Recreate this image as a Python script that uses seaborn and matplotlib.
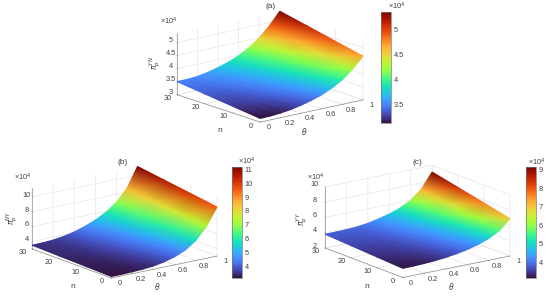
import numpy as np
import matplotlib
matplotlib.use("Agg")
import matplotlib.pyplot as plt
import seaborn as sns
from matplotlib.cm import ScalarMappable
from matplotlib.collections import TriMesh
from matplotlib.colors import Normalize
from matplotlib.tri import Triangulation
from mpl_toolkits.mplot3d import proj3d

sns.set_theme(style="white")
plt.rcParams["font.family"] = ["Liberation Sans", "DejaVu Sans"]
plt.rcParams["mathtext.fontset"] = "dejavusans"

theta = [0, .1, .2, .3, .4, .5, .6, .7, .8, .9, 1]
n_vals = [0, 10, 20, 30]

a_z = [[3.14, 3.15, 3.18, 3.23, 3.31, 3.41, 3.54, 3.72, 3.95, 4.27, 4.68],
       [3.26, 3.27, 3.30, 3.35, 3.44, 3.55, 3.69, 3.88, 4.13, 4.47, 4.90],
       [3.38, 3.38, 3.41, 3.48, 3.57, 3.68, 3.83, 4.04, 4.32, 4.68, 5.13],
       [3.50, 3.50, 3.53, 3.60, 3.70, 3.82, 3.98, 4.20, 4.50, 4.88, 5.35]]
b_z = [[3.20, 3.21, 3.25, 3.32, 3.45, 3.70, 4.10, 4.70, 5.70, 7.30, 9.60],
       [3.30, 3.31, 3.37, 3.48, 3.67, 3.98, 4.43, 5.08, 6.10, 7.70, 10.12],
       [3.40, 3.42, 3.48, 3.64, 3.88, 4.27, 4.77, 5.47, 6.50, 8.10, 10.63],
       [3.50, 3.52, 3.60, 3.80, 4.10, 4.55, 5.10, 5.85, 6.90, 8.50, 11.15]]
c_z = [[3.20, 3.22, 3.27, 3.36, 3.50, 3.70, 3.97, 4.33, 4.85, 5.60, 6.90],
       [3.40, 3.41, 3.46, 3.55, 3.70, 3.93, 4.23, 4.64, 5.23, 6.13, 7.64],
       [3.60, 3.61, 3.65, 3.74, 3.90, 4.17, 4.49, 4.94, 5.62, 6.67, 8.39],
       [3.80, 3.80, 3.84, 3.92, 4.10, 4.40, 4.75, 5.25, 6.00, 7.20, 9.13]]

W, H = 550, 299
fig = plt.figure(figsize=(5.5, 2.99), dpi=100, facecolor="white")
cmap = sns.color_palette("turbo", as_cmap=True)
GRID = "#e6e6e6"
TXT = "#404040"


def px(x, y):
    return x / W, 1 - y / H


def panel(title, zlab, Z, zlim, zticks, clim, cticks, view, left, right, cb, offs, zl, nl, tl, tt, cbt):
    ax = fig.add_axes([0, 0, .5, .5], projection="3d", proj_type="ortho", facecolor="none")
    ax.set_xlim(0, 1, view_margin=0)
    ax.set_ylim(0, 30, view_margin=0)
    ax.set_zlim(*zlim, view_margin=0)
    ax.view_init(elev=view[0], azim=view[1])
    ax.set_box_aspect((1, 1, .48), zoom=1)
    M = ax.get_proj()
    pl = proj3d.proj_transform(0, 30, zlim[0], M)
    pr = proj3d.proj_transform(1, 0, zlim[0], M)
    x0, x1 = ax.viewLim.intervalx
    y0, y1 = ax.viewLim.intervaly
    scale = (right[0] - left[0]) / (pr[0] - pl[0])
    S = scale * (x1 - x0)
    L = left[0] - (pl[0] - x0) * scale
    yb = (left[1] + right[1]) / 2 + ((pl[1] + pr[1]) / 2 - y0) * scale
    ax.set_position([L / W, 1 - yb / H, S / W, S / H])

    ax.set_xticks([0, .2, .4, .6, .8, 1])
    ax.set_xticklabels(["0", "0.2", "0.4", "0.6", "0.8", "1"])
    ax.set_yticks([0, 10, 20, 30])
    ax.set_zticks(zticks)
    ax.set_zticklabels([f"{t:g}" for t in zticks])
    ax.tick_params(labelsize=5.3, labelcolor=TXT, length=0)
    ax.tick_params(axis="x", pad=-0.5)
    ax.tick_params(axis="y", pad=-1.5)
    ax.tick_params(axis="z", pad=view[2])
    for axis, va in ((ax.xaxis, "bottom"), (ax.yaxis, "bottom"), (ax.zaxis, "baseline")):
        axis.set_pane_color((1, 1, 1, 0))
        axis.line.set_color("#909090")
        axis.line.set_linewidth(.5)
        axis._axinfo["grid"].update(color=GRID, linewidth=.5)
        axis._axinfo["tick"].update(inward_factor=0.0, outward_factor=0.02, linewidth={True: .4, False: .4}, color="#909090")
        for tick in axis.get_major_ticks():
            tick.label1.set_va(va)

    # Gouraud-shaded mesh on the library's own projection of the value table
    X, Y = np.meshgrid(theta, n_vals)
    Zv = np.array(Z)
    xs, ys, _ = proj3d.proj_transform(X.ravel(), Y.ravel(), Zv.ravel(), M)
    mesh = TriMesh(Triangulation(xs, ys, [
        t for j in range(len(n_vals) - 1) for i in range(len(theta) - 1)
        for k in [j * len(theta) + i] for t in
        ([k, k + 1, k + len(theta)], [k + 1, k + len(theta) + 1, k + len(theta)])]),
        cmap=cmap, norm=Normalize(*clim))
    mesh.set_array(Zv.ravel())
    mesh.do_3d_projection = lambda: 0.0
    ax.add_collection(mesh, autolim=False)

    cax = fig.add_axes([cb[0] / W, 1 - cb[3] / H, (cb[2] - cb[0]) / W, (cb[3] - cb[1]) / H])
    cbar = fig.colorbar(ScalarMappable(Normalize(*clim), cmap), cax=cax)
    cbar.set_ticks(cticks)
    cbar.set_ticklabels([f"{t:g}" for t in cticks])
    cbar.ax.tick_params(labelsize=5.3, labelcolor=TXT, length=0, pad=2)
    cbar.outline.set_edgecolor("#777777")
    cbar.outline.set_linewidth(.5)

    def T(p, s, **kw):
        fig.text(*px(*p), s, ha="center", va="center", color=TXT, fontsize=kw.pop("fontsize", 5.3), **kw)

    T(offs, "×10$^{4}$")
    T(cbt, "×10$^{4}$")
    T(zl, zlab, rotation=90, fontsize=5.5)
    T(nl, "n", fontsize=6)
    T(tl, r"$\theta$", fontsize=5.5)
    T(tt, title, fontsize=6)
    return ax


panel("(a)", r"$\pi_p^{YN}$", a_z, (3, 5.35), [3, 3.5, 4, 4.5, 5], (3.14, 5.35), [3.5, 4, 4.5, 5], (15.5, -129, -5.5),
      (177, 95), (363, 99.5), (381, 12, 391, 123), (169, 21), (155, 63), (220, 131), (304, 132), (271, 7), (397, 6))
panel("(b)", r"$\pi_p^{NY}$", b_z, (3, 11.2), [4, 6, 8, 10], (3.16, 11.17), [4, 5, 6, 7, 8, 9, 10, 11], (16, -127, -6),
      (32, 250), (217, 255), (232, 167, 242, 278), (23, 177), (12, 218), (73, 286), (157, 287), (123, 162), (247, 161))
panel("(c)", r"$\pi_p^{YY}$", c_z, (2, 10), [2, 4, 6, 8, 10], (3.17, 9.13), [4, 5, 6, 7, 8, 9], (16, -126, -4),
      (325, 249), (510, 255), (526, 167, 536, 278), (316, 177), (302, 219), (367, 286), (451, 287), (417, 162), (537, 162))

fig.savefig("out.png", dpi=100)
